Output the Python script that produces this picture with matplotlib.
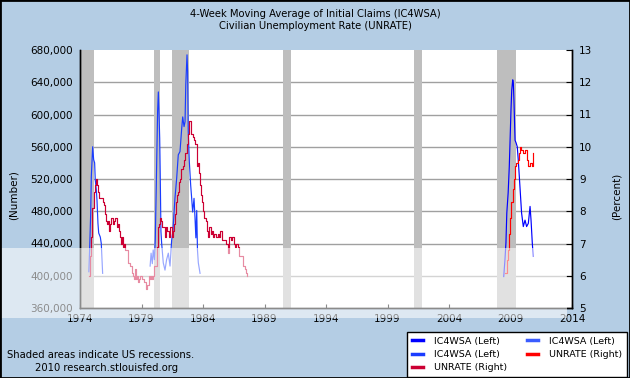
import matplotlib
matplotlib.use("Agg")
import matplotlib.pyplot as plt
from matplotlib.patches import Rectangle
from matplotlib.lines import Line2D
from matplotlib.ticker import FuncFormatter
import numpy as np

# --- data ---
recessions = [(1973.83, 1975.17), (1980.0, 1980.5), (1981.5, 1982.83),
              (1990.5, 1991.17), (2001.17, 2001.83), (2007.92, 2009.42)]

# IC4WSA segments (decimal year, claims)
ic_74_t = [1974.72, 1974.79, 1974.87, 1974.92, 1975.03, 1975.11, 1975.19, 1975.24,
           1975.33, 1975.38, 1975.46, 1975.52, 1975.65, 1975.73, 1975.79, 1975.84]
ic_74_v = [405000, 436000, 478000, 523000, 560000, 544000, 540000, 519000,
           506000, 494000, 465000, 453000, 448000, 440000, 420000, 403000]

ic_80_t = [1979.70, 1979.78, 1979.88, 1979.95, 1980.05, 1980.12, 1980.20, 1980.26,
           1980.31, 1980.37, 1980.42, 1980.48, 1980.52, 1980.55, 1980.58, 1980.64,
           1980.77, 1980.91, 1981.04, 1981.18, 1981.32, 1981.45, 1981.55, 1981.72,
           1981.86, 1981.99, 1982.13, 1982.27, 1982.35, 1982.46, 1982.54, 1982.60,
           1982.70, 1982.75, 1982.80, 1982.89, 1983.00, 1983.08, 1983.16, 1983.27,
           1983.35, 1983.42, 1983.49, 1983.55, 1983.62, 1983.76]
ic_80_v = [412000, 428000, 415000, 432000, 420000, 445000, 510000, 562000,
           604000, 628000, 604000, 570000, 529000, 492000, 455000, 440000,
           416000, 407000, 420000, 428000, 412000, 444000, 455000, 496000,
           521000, 550000, 554000, 583000, 597000, 585000, 591000, 637000,
           674000, 653000, 579000, 541000, 512000, 496000, 479000, 496000,
           472000, 447000, 481000, 432000, 416000, 403000]

ic_09_t = [2008.45, 2008.55, 2008.63, 2008.70, 2008.81, 2008.90, 2008.96, 2009.04,
           2009.10, 2009.18, 2009.23, 2009.28, 2009.37, 2009.45, 2009.55, 2009.63,
           2009.77, 2009.90, 2010.04, 2010.18, 2010.31, 2010.45, 2010.59, 2010.67,
           2010.77, 2010.85]
ic_09_v = [399000, 420000, 441000, 478000, 503000, 535000, 565000, 606000,
           630000, 643000, 639000, 618000, 568000, 565000, 560000, 544000,
           510000, 478000, 461000, 469000, 461000, 465000, 486000, 469000,
           441000, 424000]

# UNRATE monthly segments (percent)
ur_74_start = 1974.75  # Oct 1974
ur_74 = [6.0, 6.6, 7.2,
         8.1, 8.1, 8.6, 8.8, 9.0, 8.8, 8.6, 8.4, 8.4, 8.4, 8.3, 8.2,
         7.9, 7.7, 7.6, 7.7, 7.4, 7.6, 7.8, 7.8, 7.6, 7.7, 7.8, 7.8,
         7.5, 7.6, 7.4, 7.2, 7.0, 7.2, 6.9, 7.0, 6.8, 6.8, 6.8, 6.4,
         6.4, 6.3, 6.3, 6.1, 6.0, 5.9, 6.2, 5.9, 6.0, 5.8, 5.9, 6.0,
         5.9, 5.9, 5.8, 5.8, 5.6, 5.7, 5.7, 6.0, 5.9, 6.0, 5.9, 6.0,
         6.3, 6.3, 6.3, 6.9, 7.5, 7.6, 7.8, 7.7, 7.5, 7.5, 7.5, 7.2,
         7.5, 7.4, 7.4, 7.2, 7.5, 7.5, 7.2, 7.4, 7.6, 7.9, 8.3, 8.5,
         8.6, 8.9, 9.0, 9.3, 9.4, 9.6, 9.8, 9.8, 10.1, 10.4, 10.8, 10.8,
         10.4, 10.4, 10.3, 10.2, 10.1, 10.1, 9.4, 9.5, 9.2, 8.8, 8.5, 8.3,
         8.0, 7.8, 7.8, 7.7, 7.4, 7.2, 7.5, 7.5, 7.3, 7.4, 7.2, 7.3,
         7.3, 7.2, 7.2, 7.3, 7.2, 7.4, 7.4, 7.1, 7.1, 7.1, 7.0, 7.0,
         6.7, 7.2, 7.2, 7.1, 7.2, 7.2, 7.0, 6.9, 7.0, 7.0, 6.9, 6.6,
         6.6, 6.6, 6.6, 6.3, 6.3, 6.2, 6.1, 6.0]
ur_09_start = 2008.58  # Aug 2008
ur_09 = [6.1, 6.1, 6.5, 6.8, 7.3,
         7.8, 8.3, 8.7, 9.0, 9.4, 9.5, 9.5, 9.6, 9.8, 10.0, 9.9, 9.9,
         9.8, 9.8, 9.9, 9.9, 9.6, 9.4, 9.4, 9.5, 9.5, 9.4, 9.8]

left_ticks = [360000, 400000, 440000, 480000, 520000, 560000, 600000, 640000, 680000]
right_ticks = [5, 6, 7, 8, 9, 10, 11, 12, 13]
year_ticks = [1974, 1979, 1984, 1989, 1994, 1999, 2004, 2009, 2014]

BG = "#b4cde4"
BLUE1 = "#0000ff"
BLUE2 = "#1a3cff"
BLUE3 = "#3a5cff"
RED1 = "#cc0033"
RED2 = "#ff0000"
LW = 0.85

fig = plt.figure(figsize=(6.3, 3.78), dpi=100, facecolor=BG)
ax = fig.add_axes([80 / 630, 70 / 378, 492 / 630, 258 / 378])
ax.set_facecolor("white")
ax.set_xlim(1974, 2014)
ax.set_ylim(360000, 680000)

for y in left_ticks[1:-1]:
    ax.axhline(y, color="#a0a0a0", lw=1, zorder=1)
for a, b in recessions:
    ax.axvspan(a, b, color="#bebebe", lw=0, zorder=2)

ax.plot(ic_74_t, ic_74_v, color=BLUE2, lw=LW, zorder=3)
ax.plot(ic_80_t, ic_80_v, color=BLUE2, lw=LW, zorder=3)
ax.plot(ic_09_t, ic_09_v, color=BLUE1, lw=LW, zorder=3)

ax2 = ax.twinx()
ax2.set_ylim(5, 13)
t74 = ur_74_start + np.arange(len(ur_74)) / 12
t09 = ur_09_start + np.arange(len(ur_09)) / 12
ax2.plot(t74, ur_74, color=RED1, lw=LW, drawstyle="steps-post")
ax2.plot(t09, ur_09, color=RED2, lw=LW, drawstyle="steps-post")

ax.set_yticks(left_ticks)
ax.yaxis.set_major_formatter(FuncFormatter(lambda v, p: f"{int(v):,}"))
ax.set_xticks(year_ticks)
ax.tick_params(axis="y", length=0, pad=5, labelsize=7.5)
ax.tick_params(axis="x", direction="in", length=3, pad=4, labelsize=7.5, top=False)
ax2.set_yticks(right_ticks)
ax2.tick_params(axis="y", direction="in", length=4, pad=5, labelsize=7.5)

for a_ in (ax, ax2):
    a_.spines["top"].set_visible(False)
    for s in ("left", "right", "bottom"):
        a_.spines[s].set_color("black")
        a_.spines[s].set_linewidth(1)

fig.text(0.5, 1 - 14 / 378, "4-Week Moving Average of Initial Claims (IC4WSA)",
         ha="center", va="center", fontsize=7.2)
fig.text(0.5, 1 - 26 / 378, "Civilian Unemployment Rate (UNRATE)",
         ha="center", va="center", fontsize=7.2)
fig.text(14 / 630, 1 - 195 / 378, "(Number)", rotation=90, ha="center", va="center", fontsize=7.5)
fig.text(617 / 630, 1 - 196 / 378, "(Percent)", rotation=90, ha="center", va="center", fontsize=7.5)
fig.text(7 / 630, 1 - 355 / 378, "Shaded areas indicate US recessions.",
         ha="left", va="center", fontsize=7.2)
fig.text(35 / 630, 1 - 368 / 378, "2010 research.stlouisfed.org",
         ha="left", va="center", fontsize=7.2)

handles = [Line2D([], [], color=BLUE1, lw=2.5), Line2D([], [], color=BLUE2, lw=2.5),
           Line2D([], [], color=RED1, lw=2.5), Line2D([], [], color=BLUE3, lw=2.5),
           Line2D([], [], color=RED2, lw=2.5)]
labels = ["IC4WSA (Left)", "IC4WSA (Left)", "UNRATE (Right)", "IC4WSA (Left)", "UNRATE (Right)"]
leg = fig.legend(handles, labels, ncol=2, loc="upper left",
                 bbox_to_anchor=(407 / 630, 1 - 332 / 378), fontsize=6.8,
                 handlelength=1.2, handletextpad=1.15, columnspacing=2.1,
                 labelspacing=0.45, borderpad=0.5, borderaxespad=0,
                 fancybox=False, edgecolor="black", framealpha=1)
leg.get_frame().set_linewidth(1)

# lighter band across the lower part of the picture
fig.add_artist(Rectangle((0, 1 - 318 / 378), 567 / 630, 70 / 378,
                         transform=fig.transFigure, facecolor="white",
                         alpha=0.55, lw=0, zorder=10))
fig.add_artist(Rectangle((0, 0), 1, 1, transform=fig.transFigure,
                         fill=False, edgecolor="black", lw=2, zorder=11))

fig.savefig("out.png", dpi=100, facecolor=BG)
